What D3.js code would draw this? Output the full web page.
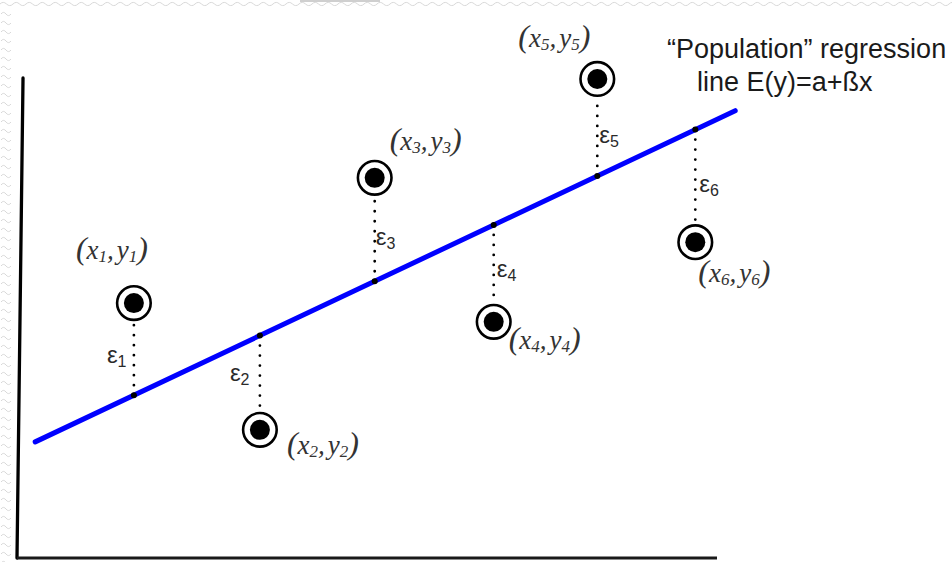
<!DOCTYPE html>
<html><head><meta charset="utf-8">
<script src="https://cdn.jsdelivr.net/npm/d3@7"></script>
<style>html,body{margin:0;padding:0;background:#fff;overflow:hidden}</style>
</head><body>
<svg id="chart" width="952" height="562"></svg>
<script>
// ---- data ----
const pointIds = ["1", "2", "3", "4", "5", "6"];
const pointX = [16.7, 34.7, 51.1, 68.1, 82.9, 96.9];
const pointY = [53.1, 26.7, 79.2, 49.2, 99.8, 65.8];
const interceptA = 22.4;
const slopeB = 0.69;
const lineXRange = [2.6, 102.6];
const axisDomain = [0, 100];
const captionLines = ["\u201CPopulation\u201D regression", "line E(y)=a+\u00DFx"];
const errorSymbol = "\u03B5";

// ---- layout (not data) ----
const W = 952, H = 562;
const labelOffsets = [[-58, -44], [27, 24], [15, -28], [15, 27], [-79, -32], [3, 40]];
const epsOffsets = [[-27, 5], [-30, 7], [1, 7], [3, 12], [2, 7], [4, 15]];
const ringR = 16.8, dotR = 10;

const x = d3.scaleLinear().domain(axisDomain).range([17, 717]);
const y = d3.scaleLinear().domain(axisDomain).range([558, 78]);
const fit = v => interceptA + slopeB * v;

const svg = d3.select("#chart");
const defs = svg.append("defs");

// faint background squiggle border
const pTop = defs.append("pattern").attr("id", "wTop").attr("patternUnits", "userSpaceOnUse")
  .attr("width", 13).attr("height", 8);
pTop.append("path").attr("d", "M0,4 q3.25,-3.2 6.5,0 t6.5,0").attr("fill", "none")
  .attr("stroke", "#d8d8d8").attr("stroke-width", 1);
const pLeft = defs.append("pattern").attr("id", "wLeft").attr("patternUnits", "userSpaceOnUse")
  .attr("width", 12).attr("height", 9);
pLeft.append("path").attr("d", "M1,5 q2.5,-3.2 5,0 t5,0").attr("fill", "none")
  .attr("stroke", "#d8d8d8").attr("stroke-width", 1);
svg.append("rect").attr("x", 0).attr("y", 0).attr("width", W).attr("height", 8).attr("fill", "url(#wTop)");
svg.append("rect").attr("x", 0).attr("y", 8).attr("width", 12).attr("height", H - 8).attr("fill", "url(#wLeft)");
svg.append("rect").attr("x", 300).attr("y", 0).attr("width", 80).attr("height", 2).attr("fill", "#cfcfcf");

// axes
svg.append("line")
  .attr("x1", x(0.86)).attr("y1", y(100))
  .attr("x2", x(0)).attr("y2", y(0))
  .attr("stroke", "#000").attr("stroke-width", 3.3).attr("stroke-linecap", "round");
svg.append("line")
  .attr("x1", x(0)).attr("y1", y(0))
  .attr("x2", x(100)).attr("y2", y(0))
  .attr("stroke", "#1a1a1a").attr("stroke-width", 3);

// regression line
svg.append("line")
  .attr("x1", x(lineXRange[0])).attr("y1", y(fit(lineXRange[0])))
  .attr("x2", x(lineXRange[1])).attr("y2", y(fit(lineXRange[1])))
  .attr("stroke", "#0000ff").attr("stroke-width", 5).attr("stroke-linecap", "round");

const pts = pointIds.map((id, i) => ({ id, i, vx: pointX[i], vy: pointY[i] }));

// dotted residuals
svg.append("g").selectAll("line").data(pts).join("line")
  .attr("x1", d => x(d.vx)).attr("y1", d => y(fit(d.vx)))
  .attr("x2", d => x(d.vx))
  .attr("y2", d => y(d.vy) + (y(d.vy) > y(fit(d.vx)) ? -ringR - 1 : ringR + 1))
  .attr("stroke", "#000").attr("stroke-width", 2.8)
  .attr("stroke-linecap", "round").attr("stroke-dasharray", "0 10");

// foot dots
svg.append("g").selectAll("circle").data(pts).join("circle")
  .attr("cx", d => x(d.vx)).attr("cy", d => y(fit(d.vx))).attr("r", 3).attr("fill", "#000");

// points
const pg = svg.append("g").selectAll("g").data(pts).join("g")
  .attr("transform", d => `translate(${x(d.vx)},${y(d.vy)})`);
pg.append("circle").attr("r", ringR).attr("fill", "#fff").attr("stroke", "#000").attr("stroke-width", 2.6);
pg.append("circle").attr("r", dotR).attr("fill", "#000");

// epsilon labels
const eps = svg.append("g").selectAll("text").data(pts).join("text")
  .attr("x", d => x(d.vx) + epsOffsets[d.i][0])
  .attr("y", d => {
    const a = y(fit(d.vx)), b = y(d.vy) + (y(d.vy) > a ? -ringR : ringR);
    return (a + b) / 2 + epsOffsets[d.i][1];
  })
  .attr("font-family", "'Liberation Sans', Arial, sans-serif")
  .attr("fill", "#2a2a2a");
eps.append("tspan").attr("font-size", 24).text(errorSymbol);
eps.append("tspan").attr("font-size", 16).attr("dy", 4).text(d => d.id);

// point labels
const lab = svg.append("g").selectAll("text").data(pts).join("text")
  .attr("x", d => x(d.vx) + labelOffsets[d.i][0])
  .attr("y", d => y(d.vy) + labelOffsets[d.i][1])
  .attr("font-family", "'Liberation Serif', 'Times New Roman', serif")
  .attr("font-style", "italic")
  .attr("fill", "#333");
lab.append("tspan").attr("font-size", 32).text("(");
lab.append("tspan").attr("font-size", 27).text("x");
lab.append("tspan").attr("font-size", 17).attr("dy", 3).text(d => d.id);
lab.append("tspan").attr("font-size", 27).attr("dy", -3).text(",");
lab.append("tspan").attr("font-size", 27).attr("dx", 3).text("y");
lab.append("tspan").attr("font-size", 17).attr("dy", 3).text(d => d.id);
lab.append("tspan").attr("font-size", 32).attr("dy", -3).text(")");

// caption
const cap = svg.append("text")
  .attr("font-family", "'Liberation Sans', Arial, sans-serif")
  .attr("font-size", 27).attr("fill", "#1a1a1a");
cap.append("tspan").attr("x", 667).attr("y", 58).text(captionLines[0]);
cap.append("tspan").attr("x", 697).attr("y", 91).text(captionLines[1]);
</script>
</body></html>
